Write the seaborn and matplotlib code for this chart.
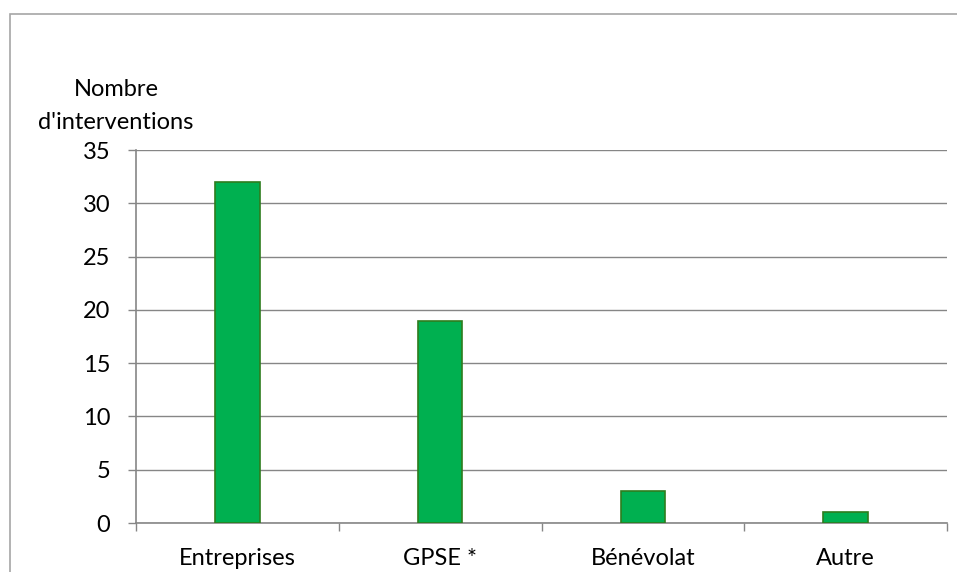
import matplotlib
matplotlib.use("Agg")
import matplotlib.pyplot as plt
import seaborn as sns
import pandas as pd
from matplotlib.patches import Rectangle

categories = ["Entreprises", "GPSE *", "Bénévolat", "Autre"]
values = [32, 19, 3, 1]
yticks = [0, 5, 10, 15, 20, 25, 30, 35]

sns.set_theme(style="white")
plt.rcParams['font.family'] = ['Lato', 'DejaVu Sans']
plt.rcParams['text.color'] = 'black'
plt.rcParams['xtick.color'] = 'black'
plt.rcParams['ytick.color'] = 'black'

df = pd.DataFrame({"cat": categories, "val": values})

W, H = 957, 572
FS = 17
fig = plt.figure(figsize=(W / 100, H / 100), dpi=100)
ax = fig.add_axes([136 / W, 1 - 523 / H, (947 - 136) / W, (523 - 150) / H])

sns.barplot(data=df, x="cat", y="val", ax=ax, color="#00B050",
            edgecolor="#2E7D1E", linewidth=1.2, width=0.22, saturation=1, zorder=3)

grey = "#868686"
ax.set_ylim(0, 35)
ax.set_xlim(-0.5, len(categories) - 0.5)
ax.set_yticks(yticks)
ax.set_yticklabels([str(t) for t in yticks], fontsize=FS)
ax.yaxis.grid(True, color=grey, linewidth=1, zorder=0)
ax.xaxis.grid(False)
for s in ["top", "right"]:
    ax.spines[s].set_visible(False)
for s in ["left", "bottom"]:
    ax.spines[s].set_color(grey)
    ax.spines[s].set_linewidth(1.2)
ax.set_xticks(range(len(categories)))
ax.set_xticklabels(categories, fontsize=FS)
ax.tick_params(axis="x", length=0, pad=18, labelcolor="black")
ax.tick_params(axis="y", length=5.5, color=grey, width=1, pad=13, left=True, labelcolor="black")
# category boundary ticks on x axis
ax.set_xticks([i - 0.5 for i in range(len(categories) + 1)], minor=True)
ax.tick_params(axis="x", which="minor", length=5.5, color=grey, width=1, bottom=True)
ax.set_xlabel("")
ax.set_ylabel("")

fig.text(116 / W, 1 - 106 / H, "Nombre\nd'interventions", ha="center", va="center",
         fontsize=FS, linespacing=1.65, color="black")

# outer chart border
fig.patches.append(Rectangle((10 / W, -0.1), 1.1, 1 - 14 / H + 0.1, transform=fig.transFigure,
                             fill=False, edgecolor="#A6A6A6", linewidth=1.2))

fig.savefig("out.png", dpi=100)
